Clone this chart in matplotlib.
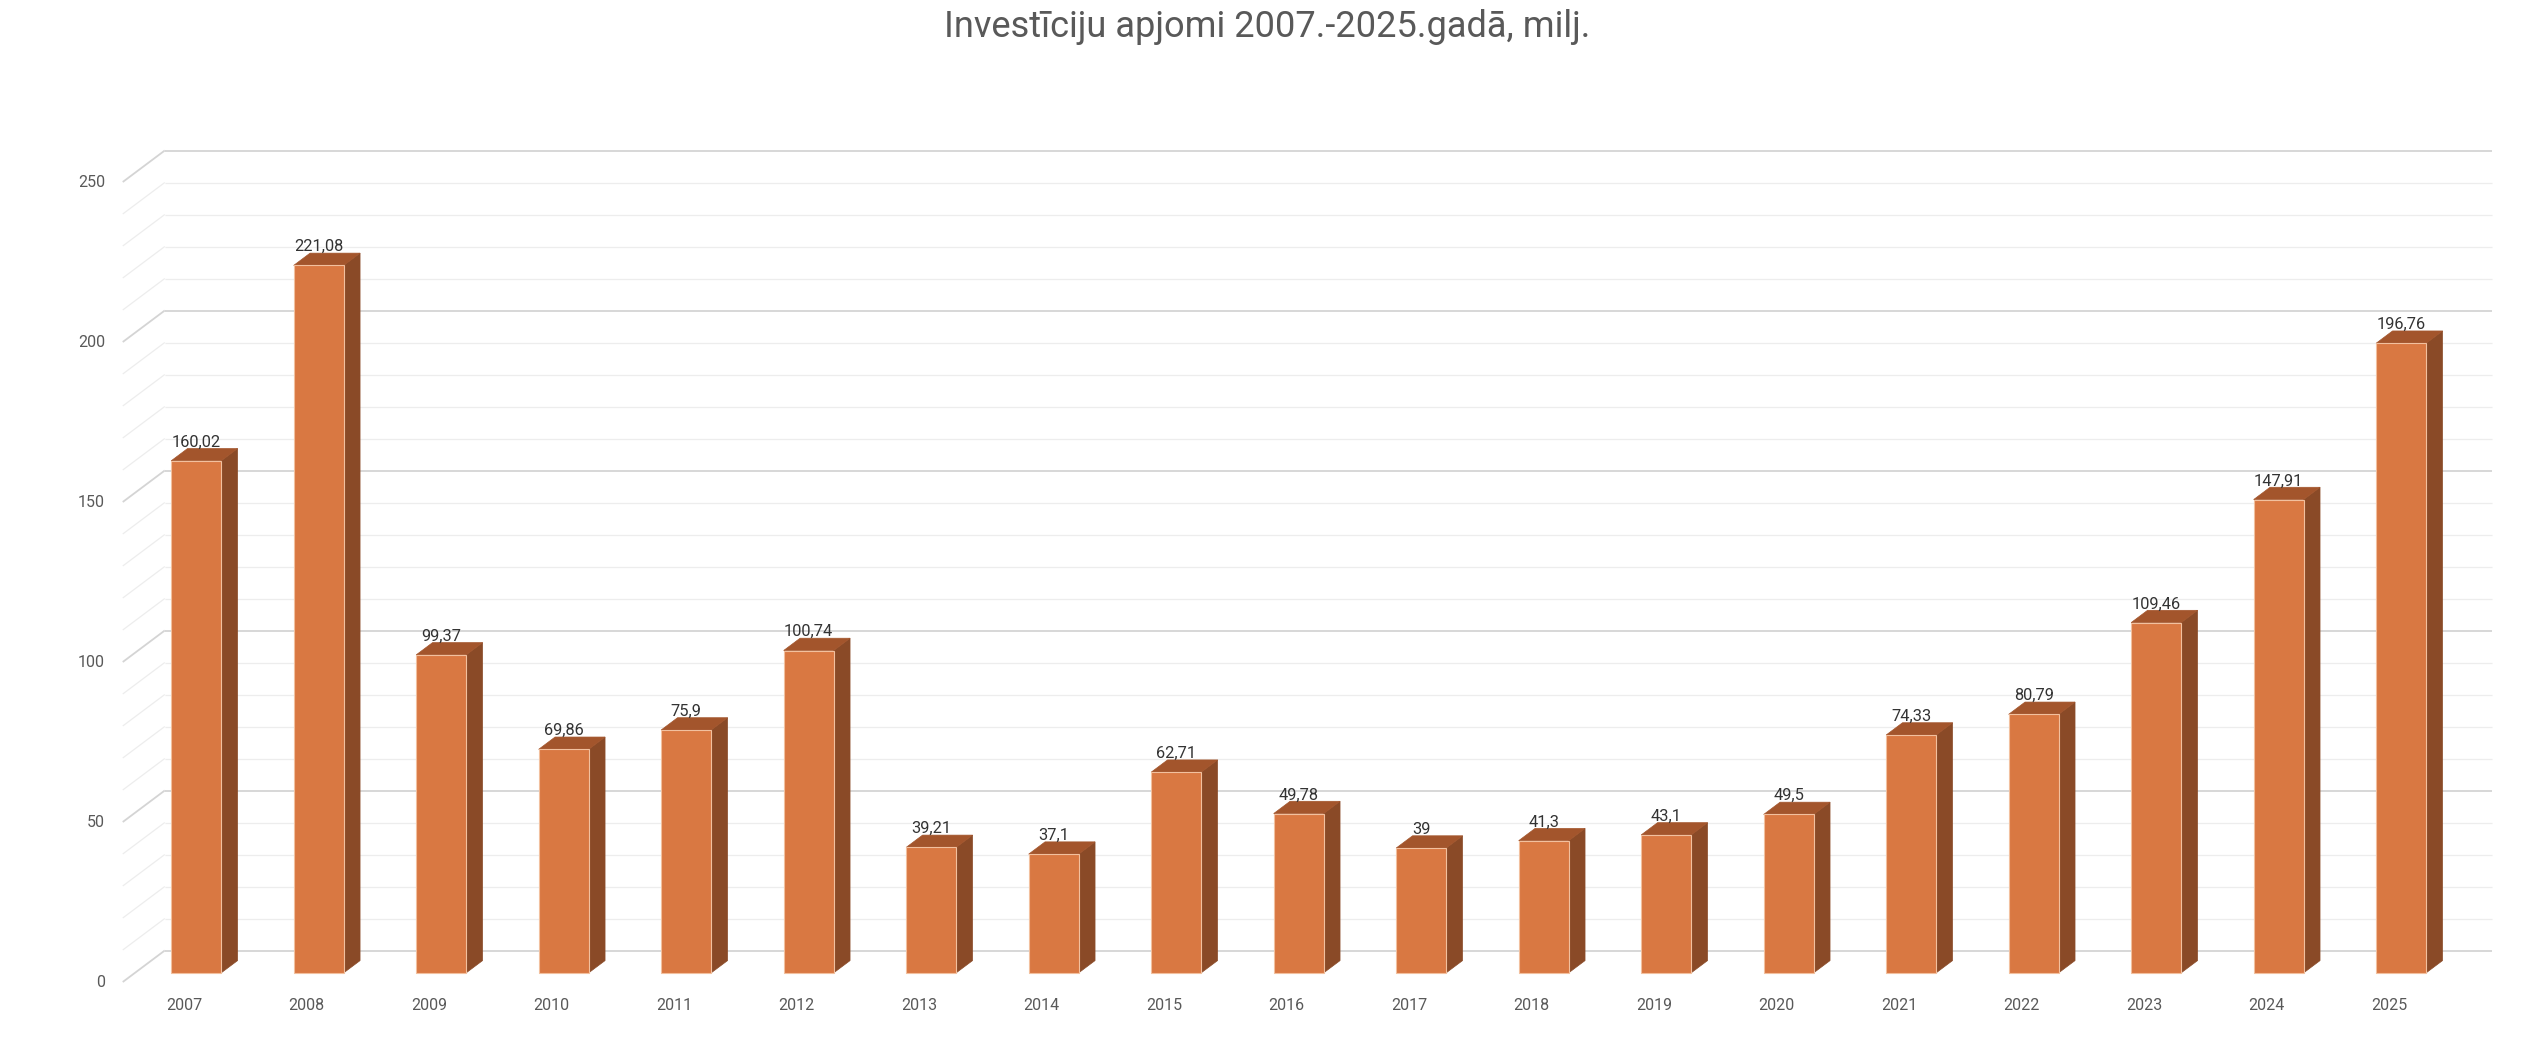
import matplotlib.pyplot as plt
from matplotlib.patches import Polygon

# Data
years = [str(y) for y in range(2007, 2026)]
values = [160.02, 221.08, 99.37, 69.86, 75.9, 100.74, 39.21, 37.1, 62.71, 49.78,
          39, 41.3, 43.1, 49.5, 74.33, 80.79, 109.46, 147.91, 196.76]
y_ticks = [0, 50, 100, 150, 200, 250]
title = 'Investīciju apjomi 2007.-2025.gadā, milj.'

plt.rcParams['font.family'] = ['Roboto', 'DejaVu Sans']

# oblique 3D projection: a point at depth f (0 front, 1 back) is shifted by f*(DX, DY)
DX, DY = 0.343, 9.84
F1, F2 = 0.29, 0.68      # front / back depth of the columns
HALF_W = 0.204           # half width of column front face

front_c = '#D97842'
side_c = '#8A4A27'
top_c = '#A3552C'
edge_c = '#F2C09E'
text_c = '#595959'


def proj(x, v, f):
    return (x + f * DX, v + f * DY)


fig = plt.figure(figsize=(25.34, 10.4), dpi=100)
ax = fig.add_axes([0, 0, 1, 1])
ax.set_xlim(-1.502, 19.184)
ax.set_ylim(-18.125, 306.875)
ax.axis('off')

n = len(years)
left, right = -0.5, n - 0.5

# Gridlines on back wall and side wall
for v in range(0, 251, 10):
    major = v % 50 == 0
    col = '#D4D4D4' if major else '#EDEDED'
    lw = 1.3 if major else 0.9
    bx0, by = proj(left, v, 1)
    bx1, _ = proj(right, v, 1)
    ax.plot([bx0, bx1], [by, by], color=col, lw=lw, zorder=1, solid_capstyle='butt')
    fx, fy = proj(left, v, 0)
    ax.plot([fx, bx0], [fy, by], color=col, lw=lw, zorder=1, solid_capstyle='butt')

# Columns
for i, v in enumerate(values):
    x0, x1 = i - HALF_W, i + HALF_W
    a = proj(x0, 0, F1)
    b = proj(x1, 0, F1)
    c = proj(x1, v, F1)
    d = proj(x0, v, F1)
    b2 = proj(x1, 0, F2)
    c2 = proj(x1, v, F2)
    d2 = proj(x0, v, F2)
    ax.add_patch(Polygon([b, b2, c2, c], closed=True, fc=side_c, ec=side_c, lw=0.5, zorder=3))
    ax.add_patch(Polygon([d, c, c2, d2], closed=True, fc=top_c, ec=top_c, lw=0.5, zorder=3))
    ax.add_patch(Polygon([a, b, c, d], closed=True, fc=front_c, ec=edge_c, lw=0.8, zorder=4))
    lx, ly = proj(i, v, F2)
    ax.text(i + F1 * DX, ly + 0.6, f'{v:g}'.replace('.', ','), ha='center', va='baseline',
            fontsize=11.8, color='#333333', zorder=5)

# Category labels
for i, y in enumerate(years):
    ax.text(i, -8.75, y, ha='center', va='baseline', fontsize=11.5, color=text_c)

# Value axis labels
for t in y_ticks:
    ax.text(-0.645, t - 1.7, str(t), ha='right', va='baseline', fontsize=11.5, color=text_c)

# title, sized to the width it has in the reference (~646 px)
ttl = fig.text(0.5, 1 - 37 / 1040, title, ha='center', va='baseline', fontsize=18, color=text_c)
fig.canvas.draw()
w = ttl.get_window_extent().width
ttl.set_fontsize(18 * 646 / w)

fig.savefig('out.png', dpi=100, facecolor='white')
